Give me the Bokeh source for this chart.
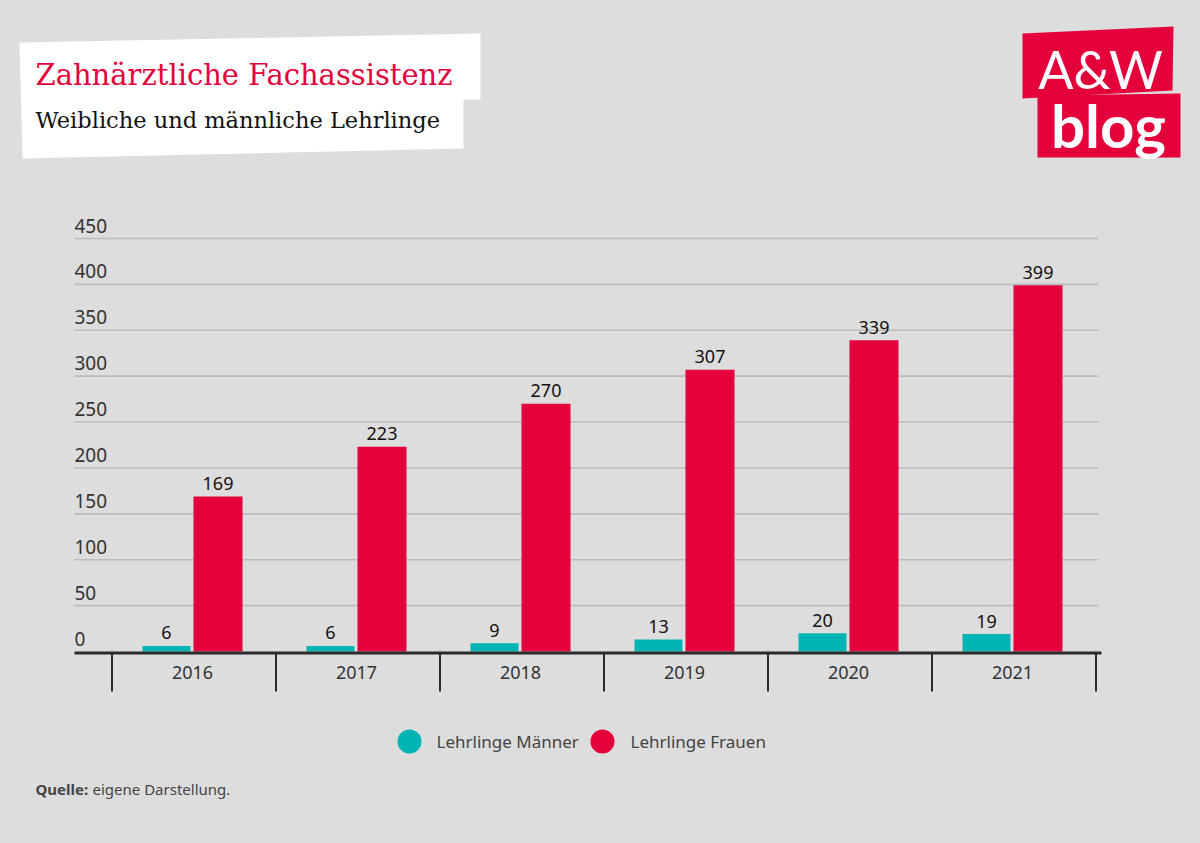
import numpy as np
from bokeh.plotting import figure
from bokeh.models import Range1d
from bokeh.core.properties import value
from bokeh.embed import file_html
from bokeh.resources import INLINE

# ---------------- data ----------------
years = ["2016", "2017", "2018", "2019", "2020", "2021"]
men = [6, 6, 9, 13, 20, 19]
women = [169, 223, 270, 307, 339, 399]
y_ticks = [0, 50, 100, 150, 200, 250, 300, 350, 400, 450]
series_names = ["Lehrlinge Männer", "Lehrlinge Frauen"]
title_text = "Zahnärztliche Fachassistenz"
subtitle_text = "Weibliche und männliche Lehrlinge"
source_bold = "Quelle:"
source_text = "eigene Darstellung."

# ---------------- styles ----------------
BG = "#dddddd"
TEAL = "#00b4b4"
RED = "#e4003b"
TXT = "#333333"
FONT = value("Noto Sans")

W, H = 1200, 843
X_CAT0, DX = 192.0, 164.0       # centre of first category, category width (px)
Y_ZERO, S = 651.0, 413.0 / 450  # pixel row of value 0, pixels per unit


def ux(X):
    return (X - X_CAT0) / DX


def vy(Y):
    return (Y_ZERO - Y) / S


p = figure(width=W, height=H, output_backend="svg", toolbar_location=None,
           x_range=Range1d(ux(0), ux(W)), y_range=Range1d(vy(H), vy(0)),
           min_border=0, min_border_left=0, min_border_right=0,
           min_border_top=0, min_border_bottom=0)
p.axis.visible = False
p.grid.visible = False
p.outline_line_color = None
p.background_fill_color = BG
p.border_fill_color = BG

n = len(years)
xc = np.arange(n, dtype=float)

# gridlines
gx0, gx1 = ux(74), ux(1098)
grid_vals = [t for t in y_ticks if t > 0]
p.segment(x0=[gx0] * len(grid_vals), x1=[gx1] * len(grid_vals),
          y0=grid_vals, y1=grid_vals, line_color="#bcbcbc", line_width=1.6)

# y tick labels (above gridlines, left aligned)
p.text(x=[gx0] * len(y_ticks), y=y_ticks, text=[str(t) for t in y_ticks],
       text_font=FONT, text_font_size="19px", text_color=TXT,
       text_align="left", text_baseline="middle", y_offset=-13)

# bars
p.vbar(x=xc - 26 / DX, top=men, bottom=0, width=48 / DX,
       fill_color=TEAL, line_color=None)
p.vbar(x=xc + 25.5 / DX, top=women, bottom=0, width=49 / DX,
       fill_color=RED, line_color=None)

# value labels
p.text(x=xc - 26 / DX, y=men, text=[str(v) for v in men],
       text_font=FONT, text_font_size="18px", text_color="#111111",
       text_align="center", text_baseline="middle", y_offset=-13)
p.text(x=xc + 25.5 / DX, y=women, text=[str(v) for v in women],
       text_font=FONT, text_font_size="18px", text_color="#111111",
       text_align="center", text_baseline="middle", y_offset=-13)

# axis line
p.segment(x0=[gx0], x1=[ux(1101)], y0=[vy(652.5)], y1=[vy(652.5)],
          line_color="#2b2b2b", line_width=3)
# category separators
seps = np.arange(n + 1) - 0.5 + 1.5 / DX
p.segment(x0=seps, x1=seps, y0=[vy(652)] * (n + 1), y1=[vy(691)] * (n + 1),
          line_color="#2b2b2b", line_width=2)
# category labels
p.text(x=xc, y=[vy(672)] * n, text=years, text_font=FONT,
       text_font_size="18px", text_color=TXT, text_align="center",
       text_baseline="middle")

# legend
leg_cx = [ux(409), ux(602)]
leg_tx = [ux(436), ux(630)]
p.scatter(x=leg_cx, y=[vy(741)] * 2, size=24, marker="circle",
          fill_color=[TEAL, RED], line_color=None)
p.text(x=leg_tx, y=[vy(741)] * 2, text=series_names, text_font=FONT,
       text_font_size="17px", text_color="#444444", text_align="left",
       text_baseline="middle")

# source
p.text(x=[ux(35)], y=[vy(788)], text=[source_bold], text_font=FONT,
       text_font_size="15px", text_font_style="bold", text_color="#444444",
       text_align="left", text_baseline="middle")
p.text(x=[ux(92)], y=[vy(788)], text=[source_text], text_font=FONT,
       text_font_size="15px", text_color="#444444",
       text_align="left", text_baseline="middle")

# title box (white, slightly tilted)
box = [(19, 42), (480, 33), (480, 99), (463, 99), (463, 148), (22, 158)]
p.patch(x=[ux(a) for a, b in box], y=[vy(b) for a, b in box],
        fill_color="white", line_color=None)
p.text(x=[ux(35)], y=[vy(74)], text=[title_text], text_font=value("DejaVu Serif"),
       text_font_size="29px", text_color=RED, text_align="left",
       text_baseline="middle")
p.text(x=[ux(35)], y=[vy(119)], text=[subtitle_text], text_font=value("DejaVu Serif"),
       text_font_size="22.5px", text_color="#111111", text_align="left",
       text_baseline="middle")

# logo
top_box = [(1022, 33), (1173, 26), (1172, 90), (1022, 98)]
low_box = [(1037, 95), (1180, 93), (1180, 157), (1037, 157)]
for bx in (top_box, low_box):
    p.patch(x=[ux(a) for a, b in bx], y=[vy(b) for a, b in bx],
            fill_color=RED, line_color=None)
p.text(x=[ux(1100)], y=[vy(68)], text=["A&W"], text_font=value("Lato"),
       text_font_size="52px", text_color="white", text_align="center",
       text_baseline="middle")
p.text(x=[ux(1108)], y=[vy(124)], text=["blog"], text_font=value("Lato"),
       text_font_size="60px", text_font_style="bold", text_color="white",
       text_align="center", text_baseline="middle")

html = file_html(p, INLINE)
style = ("<style>html,body{margin:0;padding:0;overflow:hidden;background:%s;}</style>" % BG)
html = html.replace("</head>", style + "</head>", 1)
open("out.html", "w").write(html)
